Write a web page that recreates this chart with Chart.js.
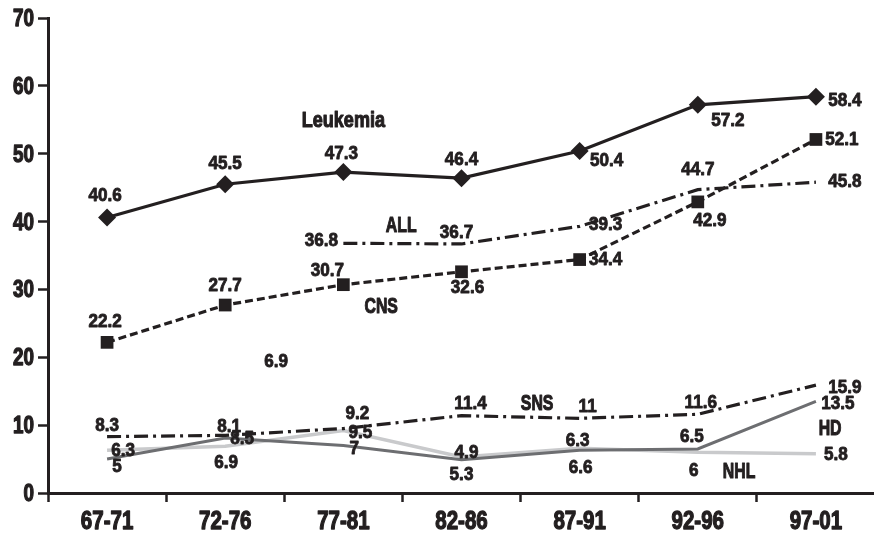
<!DOCTYPE html>
<html><head><meta charset="utf-8">
<script src="https://cdn.jsdelivr.net/npm/chart.js@4/dist/chart.umd.min.js"></script>
<style>html,body{margin:0;padding:0;background:#fff;overflow:hidden;width:874px;height:535px}</style>
</head><body>
<canvas id="c" width="884" height="535" style="display:block;width:884px;height:535px"></canvas>
<script>
const periods = ['67-71','72-76','77-81','82-86','87-91','92-96','97-01'];
const leukemia = [40.6,45.5,47.3,46.4,50.4,57.2,58.4];
const cns = [22.2,27.7,30.7,32.6,34.4,42.9,52.1];
const allData = [null,null,36.8,36.7,39.3,44.7,45.8];
const sns = [8.3,8.5,9.5,11.4,11,11.6,15.9];
const hd = [5,8.1,7,4.9,6.3,6.5,13.5];
const nhl = [6.3,6.9,9.2,5.3,6.6,6,5.8];
const yTicks = [0,10,20,30,40,50,60,70];

// label placement (pixel offsets from each point)
const labelOffsets = {
  Leukemia: [[-2,-22],[0,-20],[-2,-18],[0,-18],[27,10],[30,16],[29,4]],
  CNS: [[-2,-21],[0,-19],[-16,-14],[6,16],[26,0],[12,19],[26,0]],
  ALL: [null,null,[-22,-3],[-5,-11],[26,-2],[0,-20],[29,0]],
  SNS: [[0,-11],[17,3],[17,4],[9,-12],[8,-12],[3,-12],[29,3]],
  HD: [[10,8],[4,-11],[11,3],[5,-7],[-2,-9],[-6,-12],[22,2]],
  NHL: [[16,1],[1,17],[14,-17],[0,18],[1,20],[-4,18],[20,1]]
};
const seriesNames = [
  {text:'Leukemia', x:2.0, y:54.8},
  {text:'ALL', x:2.49, y:39.3},
  {text:'CNS', x:2.32, y:27.4},
  {text:'SNS', x:3.64, y:13.1},
  {text:'HD', x:6.12, y:9.4},
  {text:'NHL', x:5.35, y:3.1}
];
const strayLabels = [{text:'6.9', x:1.43, y:19.3}];

const INK = '#231f20';
const FAM = "'Liberation Sans', Arial, sans-serif";

function squeezed(ctx, text, x, y, size, sx, align, baseline, weight) {
  ctx.save();
  ctx.font = 'bold ' + size + 'px ' + FAM;
  ctx.translate(x, y);
  ctx.scale(sx, 1);
  ctx.textAlign = align;
  ctx.textBaseline = baseline;
  ctx.fillStyle = INK;
  ctx.strokeStyle = INK;
  ctx.lineWidth = weight;
  ctx.lineJoin = 'round';
  ctx.fillText(text, 0, 0);
  ctx.strokeText(text, 0, 0);
  ctx.restore();
}

const labelPlugin = {
  id: 'labels',
  afterDraw(chart) {
    const ctx = chart.ctx;
    const xs = chart.scales.x, ys = chart.scales.y;
    // axis tick labels, positioned by the scales
    yTicks.forEach(v => squeezed(ctx, String(v), ys.right - 14, ys.getPixelForValue(v) + 8, 23, 0.82, 'right', 'alphabetic', 1.3));
    periods.forEach((p, i) => squeezed(ctx, p, xs.getPixelForTick(i), xs.top + 36, 25, 0.82, 'center', 'alphabetic', 1.3));
    // data labels
    chart.data.datasets.forEach((ds, di) => {
      const meta = chart.getDatasetMeta(di);
      const offs = labelOffsets[ds.label];
      meta.data.forEach((pt, i) => {
        const v = ds.data[i];
        if (v === null || !offs || !offs[i]) return;
        squeezed(ctx, String(v), pt.x + offs[i][0], pt.y + offs[i][1], 19, 0.9, 'center', 'middle', 0.9);
      });
    });
    strayLabels.forEach(a => squeezed(ctx, a.text, xs.getPixelForValue(a.x), ys.getPixelForValue(a.y), 19, 0.9, 'center', 'middle', 0.9));
    seriesNames.forEach(a => {
      const big = a.text === 'Leukemia';
      squeezed(ctx, a.text, xs.getPixelForValue(a.x), ys.getPixelForValue(a.y), 22, big ? 0.82 : 0.72, 'center', 'middle', 1.1);
    });
  }
};

new Chart(document.getElementById('c'), {
  type: 'line',
  data: {
    labels: periods,
    datasets: [
      {label:'Leukemia', data: leukemia, borderColor: INK, backgroundColor: INK, borderWidth: 3.2, pointStyle:'rectRot', pointRadius: 9, pointBorderWidth: 0},
      {label:'CNS', data: cns, borderColor: INK, backgroundColor: INK, borderWidth: 3.2, borderDash:[8,4], pointStyle:'rect', pointRadius: 9, pointBorderWidth: 0},
      {label:'ALL', data: allData, borderColor: INK, borderWidth: 3.2, borderDash:[14,5,3,5], pointRadius: 0},
      {label:'SNS', data: sns, borderColor: INK, borderWidth: 3.2, borderDash:[14,5,3,5], pointRadius: 0},
      {label:'HD', data: hd, borderColor: '#6d6e71', borderWidth: 3, pointRadius: 0},
      {label:'NHL', data: nhl, borderColor: '#c9cacc', borderWidth: 3.5, pointRadius: 0}
    ]
  },
  options: {
    responsive: false,
    animation: false,
    devicePixelRatio: 1,
    layout: {padding: {top: 18, right: 0, left: 0, bottom: 0}},
    plugins: {legend: {display: false}, title: {display: false}, tooltip: {enabled: false}},
    elements: {line: {tension: 0}},
    scales: {
      x: {
        offset: true,
        grid: {offset: true, drawOnChartArea: false, tickLength: 9, tickWidth: 2.5, tickColor: INK},
        border: {color: INK, width: 3},
        ticks: {display: false},
        afterFit(s) { s.height = 42; }
      },
      y: {
        min: 0, max: 70,
        afterBuildTicks(s) { s.ticks = yTicks.map(v => ({value: v})); },
        grid: {drawOnChartArea: false, tickLength: 10, tickWidth: 2.5, tickColor: INK},
        border: {color: INK, width: 3},
        ticks: {display: false},
        afterFit(s) { s.width = 48; }
      }
    }
  },
  plugins: [labelPlugin]
});
</script>
</body></html>
